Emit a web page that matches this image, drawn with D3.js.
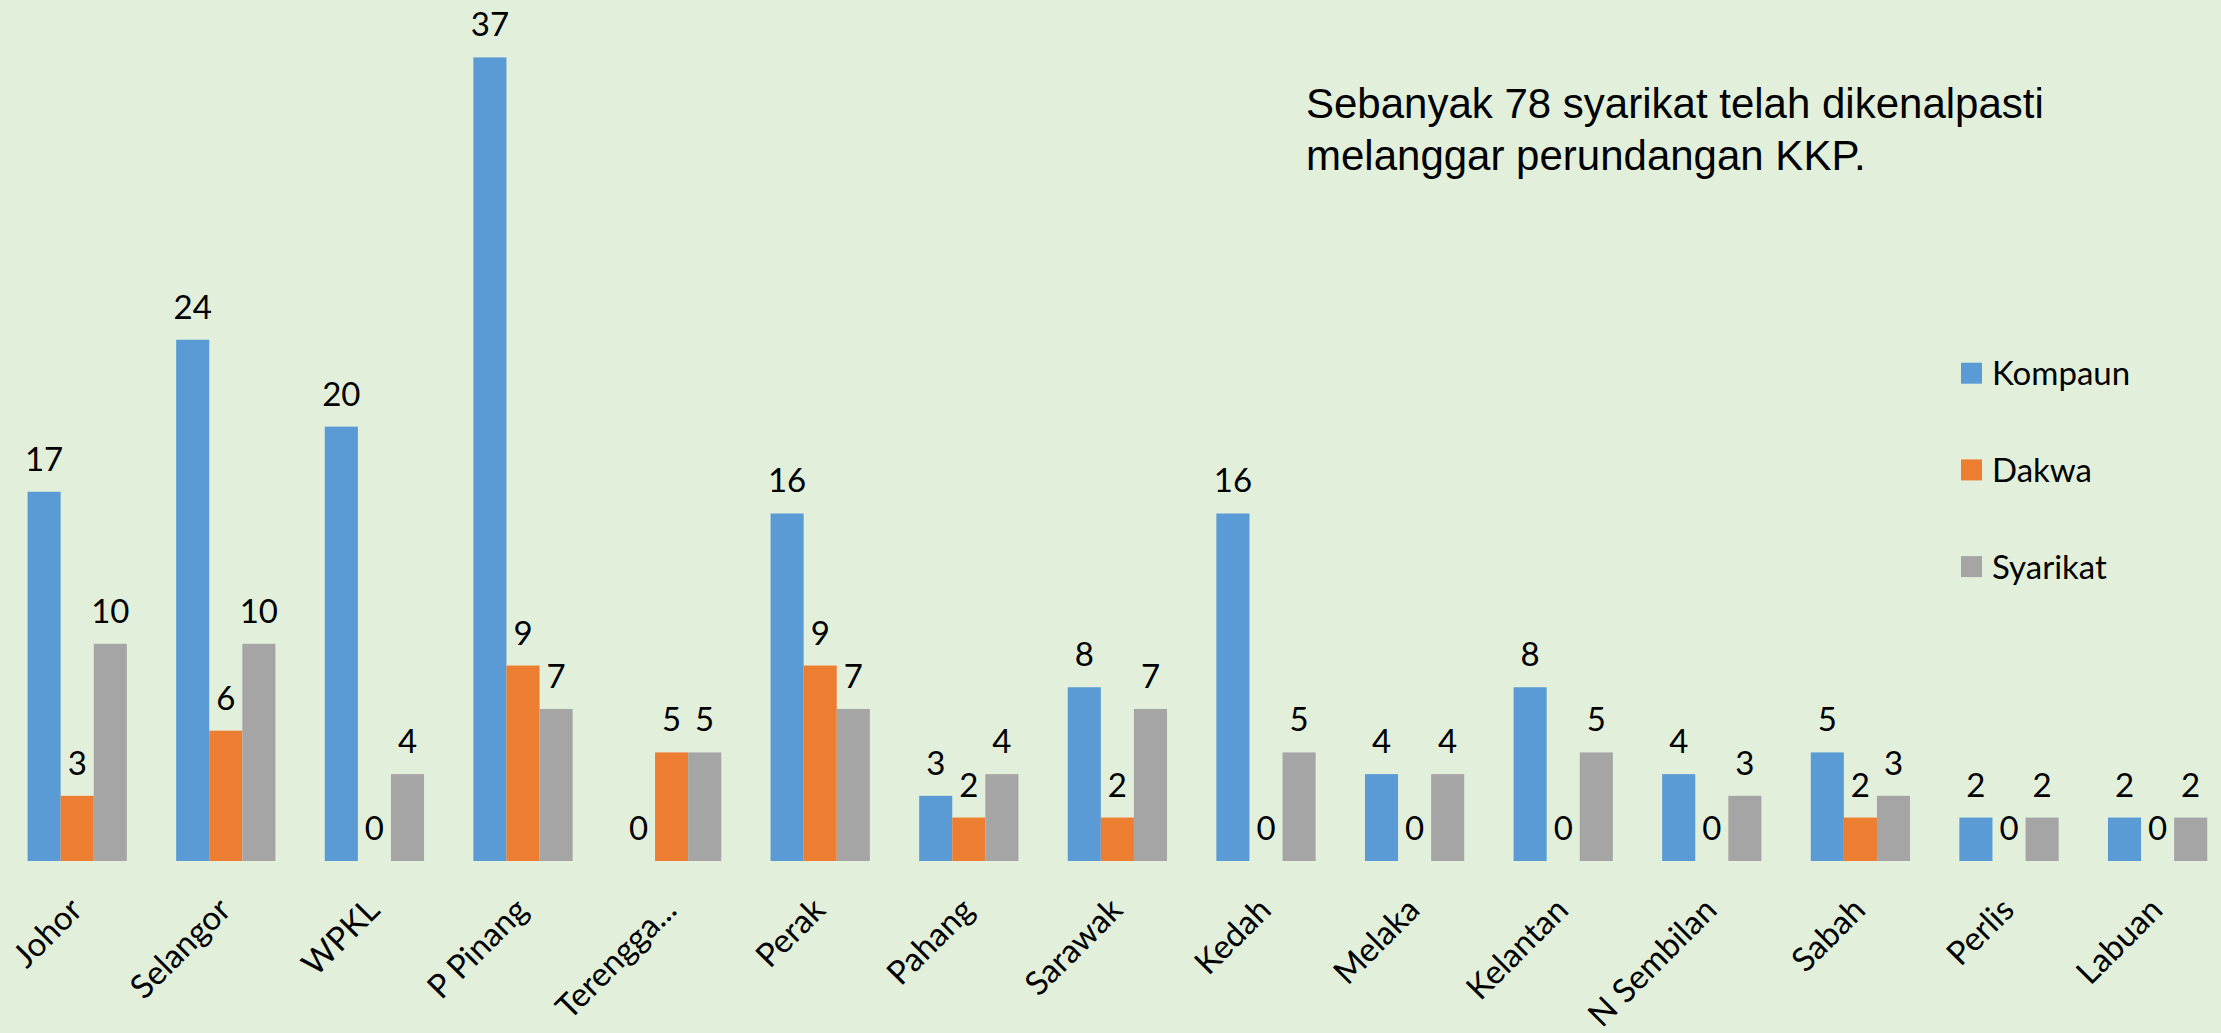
<!DOCTYPE html>
<html>
<head>
<meta charset="utf-8">
<script src="https://cdn.jsdelivr.net/npm/d3@7"></script>
<style>
  html, body { margin: 0; padding: 0; background: #E2EFDA; }
  svg { display: block; }
</style>
</head>
<body>
<script>
const categories = ["Johor", "Selangor", "WPKL", "P Pinang", "Terengga...", "Perak", "Pahang", "Sarawak", "Kedah", "Melaka", "Kelantan", "N Sembilan", "Sabah", "Perlis", "Labuan"];
const seriesNames = ["Kompaun", "Dakwa", "Syarikat"];
const kompaun = [17, 24, 20, 37, 0, 16, 3, 8, 16, 4, 8, 4, 5, 2, 2];
const dakwa = [3, 6, 0, 9, 5, 9, 2, 2, 0, 0, 0, 0, 2, 0, 0];
const syarikat = [10, 10, 4, 7, 5, 7, 4, 7, 5, 4, 5, 3, 3, 2, 2];
const seriesColors = ["#5B9BD5", "#ED7D31", "#A5A5A5"];
const titleLines = ["Sebanyak 78 syarikat telah dikenalpasti", "melanggar perundangan KKP."];

const W = 2221, H = 1033;
const seriesValues = [kompaun, dakwa, syarikat];

const svg = d3.select("body").append("svg").attr("width", W).attr("height", H);
svg.append("rect").attr("width", W).attr("height", H).attr("fill", "#E2EFDA");

const x0 = d3.scaleBand().domain(categories).range([2.9, 2231.9]).paddingInner(0.332).paddingOuter(0.166);
const x1 = d3.scaleBand().domain(seriesNames).range([0, x0.bandwidth()]);
const y = d3.scaleLinear().domain([0, 37]).range([861, 57.4]);
const color = d3.scaleOrdinal().domain(seriesNames).range(seriesColors);

const rows = [];
categories.forEach((c, i) => {
  seriesNames.forEach((s, j) => rows.push({cat: c, series: s, value: seriesValues[j][i]}));
});

const labelFont = "Lato, 'Open Sans', sans-serif";

const g = svg.append("g");
g.selectAll("rect.bar").data(rows).join("rect")
  .attr("class", "bar")
  .attr("x", d => x0(d.cat) + x1(d.series))
  .attr("y", d => y(d.value))
  .attr("width", x1.bandwidth())
  .attr("height", d => y(0) - y(d.value))
  .attr("fill", d => color(d.series));

g.selectAll("text.val").data(rows).join("text")
  .attr("class", "val")
  .attr("x", d => x0(d.cat) + x1(d.series) + x1.bandwidth() / 2)
  .attr("y", d => y(d.value) - 21)
  .attr("text-anchor", "middle")
  .attr("font-family", labelFont)
  .attr("font-size", 33)
  .attr("fill", "#000")
  .text(d => d.value);

// category axis labels
const xAxis = d3.axisBottom(x0).tickSize(0).tickPadding(0);
const axG = svg.append("g").attr("transform", `translate(0,${y(0)})`).call(xAxis);
axG.select(".domain").remove();
axG.selectAll(".tick text")
  .attr("font-family", labelFont)
  .attr("font-size", 33)
  .attr("fill", "#000")
  .attr("text-anchor", "end")
  .attr("dy", 0)
  .attr("y", 0)
  .attr("transform", "translate(7,51) rotate(-45)");

// title text
const title = svg.append("text")
  .attr("font-family", "'Liberation Sans', Arial, sans-serif")
  .attr("font-size", 42)
  .attr("fill", "#000");
title.selectAll("tspan").data(titleLines).join("tspan")
  .attr("x", 1306)
  .attr("y", (d, i) => 118 + i * 52)
  .text(d => d);

// legend
const leg = svg.append("g").attr("transform", "translate(1961,362.7)");
const li = leg.selectAll("g").data(seriesNames).join("g")
  .attr("transform", (d, i) => `translate(0,${i * 96.7})`);
li.append("rect").attr("width", 21).attr("height", 21).attr("fill", d => color(d));
li.append("text").attr("x", 31).attr("y", 22.5)
  .attr("font-family", labelFont).attr("font-size", 33).attr("fill", "#000")
  .text(d => d);
</script>
</body>
</html>
